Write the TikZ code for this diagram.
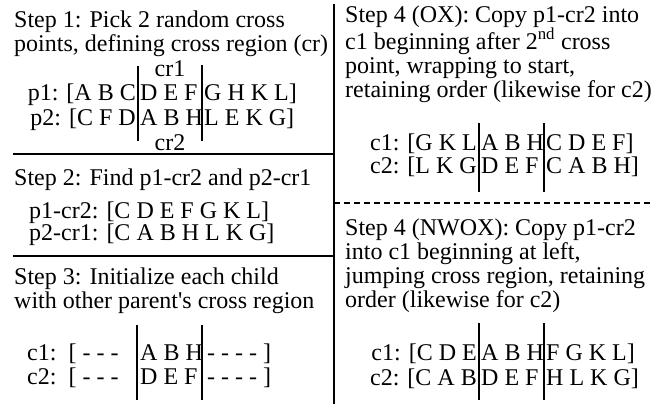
\documentclass[tikz,border=0pt]{standalone}
\usepackage{fontspec}
\setmainfont{Liberation Serif}[Ligatures=TeXOff]
\usetikzlibrary{positioning}

\begin{document}
\begin{tikzpicture}[x=1pt,y=-1pt,
  txt/.style={inner sep=0pt,font=\fontsize{24}{24}\selectfont},
  para/.style={txt,align=left,anchor=base west},
  seql/.style={txt,anchor=base east},
  seqr/.style={txt,anchor=base west},
  bar/.style={black,line width=2.5pt},
  divider/.style={black,line width=2.5pt}]
  \useasboundingbox (0,0) rectangle (672,407);

  % dividers
  \draw[divider] (334,4) -- (334,404);
  \draw[divider] (13,154) -- (334,154);
  \draw[divider] (13,256) -- (334,256);
  \draw[black,line width=2pt,dash pattern=on 6pt off 4pt] (334,203) -- (650,203);

  % step 1 (paragraph nodes sit on their last baseline)
  \node[para] at (14,51) (s1) {Step 1: Pick 2 random cross\\points, defining cross region (cr)};
  \node[txt,anchor=base] at (170,76) (cr1) {cr1};
  \node[seql] at (136,100) (p1a) {p1: [A B C};
  \node[seqr] at (140,100) (p1b) {D E F};
  \node[seqr] at (204,100) (p1c) {G H K L]};
  \node[seql] at (136,125) (p2a) {p2: [C F D};
  \node[seqr] at (140,125) (p2b) {A B H};
  \node[seqr] at (204,125) (p2c) {L E K G]};
  \node[txt,anchor=base] at (170,150) (cr2) {cr2};
  \draw[bar] (138,66) -- (138,141);
  \draw[bar] (202,65) -- (202,141);

  % step 2
  \node[para] at (14,185) (s2) {Step 2: Find p1-cr2 and p2-cr1};
  \node[seqr] at (29,218) (pc1) {p1-cr2: [C D E F G K L]};
  \node[seqr] at (29,240) (pc2) {p2-cr1: [C A B H L K G]};

  % step 3
  \node[para] at (14,308) (s3) {Step 3: Initialize each child\\with other parent's cross region};
  \node[seqr] at (27,360) (c1a) {c1:\ \ [ - - -};
  \node[seqr] at (140,360) (c1b) {A B H};
  \node[seqr] at (207,360) (c1c) {- - - - ]};
  \node[seqr] at (27,384) (c2a) {c2:\ \ [ - - -};
  \node[seqr] at (140,384) (c2b) {D E F};
  \node[seqr] at (207,384) (c2c) {- - - - ]};
  \draw[bar] (137,325) -- (137,400);
  \draw[bar] (202,325) -- (202,400);

  % step 4 (OX)
  \node[para] at (345,97) (s4) {Step 4 (OX): Copy p1-cr2 into\\c1 beginning after 2\textsuperscript{nd} cross\\point, wrapping to start,\\retaining order (likewise for c2)};
  \node[seql] at (477,150) (o1a) {c1: [G K L};
  \node[seqr] at (481,150) (o1b) {A B H};
  \node[seqr] at (546,150) (o1c) {C D E F]};
  \node[seql] at (477,173) (o2a) {c2: [L K G};
  \node[seqr] at (481,173) (o2b) {D E F};
  \node[seqr] at (546,173) (o2c) {C A B H]};
  \draw[bar] (479,123) -- (479,192);
  \draw[bar] (544,123) -- (544,192);

  % step 4 (NWOX)
  \node[para] at (345,307) (s5) {Step 4 (NWOX): Copy p1-cr2\\into c1 beginning at left,\\jumping cross region, retaining\\order (likewise for c2)};
  \node[seql] at (477,360) (n1a) {c1: [C D E};
  \node[seqr] at (481,360) (n1b) {A B H};
  \node[seqr] at (546,360) (n1c) {F G K L]};
  \node[seql] at (477,385) (n2a) {c2: [C A B};
  \node[seqr] at (481,385) (n2b) {D E F};
  \node[seqr] at (546,385) (n2c) {H L K G]};
  \draw[bar] (479,323) -- (479,400);
  \draw[bar] (544,323) -- (544,400);
\end{tikzpicture}
\end{document}
